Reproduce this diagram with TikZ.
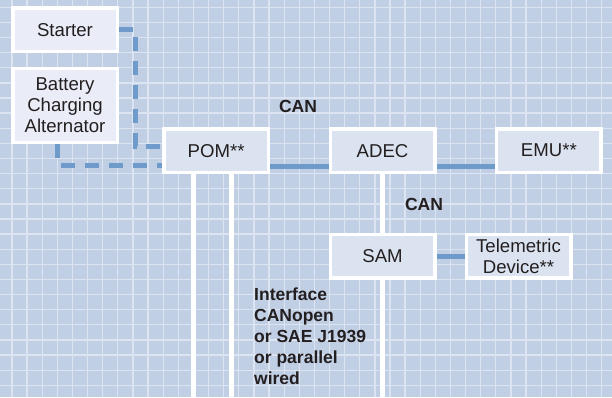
\documentclass[tikz,border=0pt]{standalone}
\usepackage{fontspec}
\setmainfont{Liberation Sans}
\definecolor{bg}{HTML}{C1CFE5}
\definecolor{gridc}{HTML}{DCE4F1}
\definecolor{boxa}{HTML}{EAEDF7}
\definecolor{boxb}{HTML}{DCE3F0}
\definecolor{bus}{HTML}{6F9BCB}
\definecolor{txt}{HTML}{231F20}
\begin{document}
\begin{tikzpicture}[x=1pt,y=-1pt,
 unit/.style={draw=white, line width=3.5pt, fill=boxb, minimum width=104.5pt, minimum height=43.5pt, inner sep=0pt, align=center, font=\fontsize{18.6}{21}\selectfont, text=txt},
 unita/.style={unit, fill=boxa},
 busline/.style={draw=bus, line width=5pt},
 dashline/.style={busline, dash pattern=on 14pt off 10pt},
 wire/.style={draw=white, line width=4.5pt},
 lbl/.style={font=\bfseries\fontsize{17.5}{21}\selectfont, text=txt, inner sep=0pt}]
\fill[bg] (0,0) rectangle (612,397);
\useasboundingbox (0,0) rectangle (612,397);
\foreach \k in {0,...,39} \draw[gridc, line width=1.3pt] ({12+15.12*\k},0) -- ({12+15.12*\k},397);
\foreach \k in {0,...,25} \draw[gridc, line width=1.3pt] (0,{7.3+15.12*\k}) -- (612,{7.3+15.12*\k});

\node[unita] (starter) at (65,29.65) {Starter};
\node[unita, minimum height=74.1pt] (battery) at (65,105.5) {Battery\\Charging\\Alternator};
\node[unit] (pom) at (216.15,150.65) {POM**};
\node[unit] (adec) at (382.5,150.65) {ADEC};
\node[unit] (emu) at (548.85,150.65) {EMU**};
\node[unit] (sam) at (382.5,256.35) {SAM};
\node[unit] (tele) at (518.5,256.35) {Telemetric\\Device**};

\coordinate (sa) at (135.5,29.65);
\coordinate (sb) at (135.5,146.7);
\draw[dashline] (starter.east) -- (sa) -- (sb) -- (sb -| pom.west);
\coordinate (ba) at (57.5,165);
\draw[dashline] (battery.south -| ba) -- (ba) -- (ba -| pom.west);
\coordinate (bb) at (0,166);
\draw[busline] (pom.east |- bb) -- (adec.west |- bb);
\draw[busline] (adec.east |- bb) -- (emu.west |- bb);
\draw[busline] (sam.east) -- (tele.west);
\coordinate (w1) at (193.5,397);
\coordinate (w2) at (231.3,397);
\draw[wire] (pom.south -| w1) -- (w1);
\draw[wire] (pom.south -| w2) -- (w2);
\draw[wire] (adec.south) -- (sam.north);
\draw[wire] (sam.south) -- (sam.south |- w1);

\node[lbl, anchor=base] (can1) at (298,112.7) {CAN};
\node[lbl, anchor=base] (can2) at (424,210) {CAN};
\node[lbl, anchor=north west, align=left] (iface) at (254,288) {Interface\\CANopen\\or SAE J1939\\or parallel\\wired};
\end{tikzpicture}
\end{document}
